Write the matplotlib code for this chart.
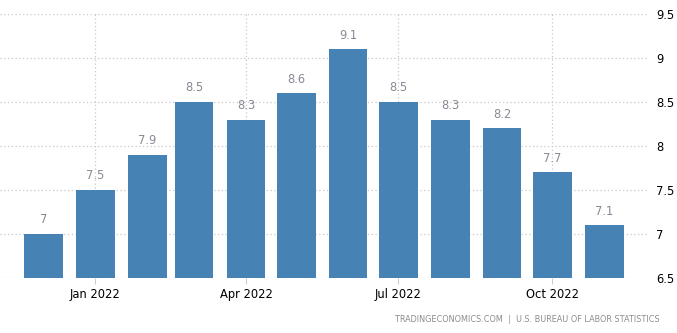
import datetime as dt
import matplotlib.pyplot as plt
import matplotlib.dates as mdates

# monthly values, Dec 2021 - Nov 2022
months = ["2021-12", "2022-01", "2022-02", "2022-03", "2022-04", "2022-05",
          "2022-06", "2022-07", "2022-08", "2022-09", "2022-10", "2022-11"]
values = [7.0, 7.5, 7.9, 8.5, 8.3, 8.6, 9.1, 8.5, 8.3, 8.2, 7.7, 7.1]
yticks = [6.5, 7, 7.5, 8, 8.5, 9, 9.5]
ytick_labels = ["6.5", "7", "7.5", "8", "8.5", "9", "9.5"]

dates = [dt.datetime.strptime(m + "-01", "%Y-%m-%d") for m in months]

fig = plt.figure(figsize=(6.77, 3.33), dpi=100)
ax = fig.add_axes([0.0, 0.165, 0.957, 0.793])

ax.bar(dates, [v - 6.5 for v in values], bottom=6.5, width=23,
       color="#4682b4", zorder=3)

for d, v in zip(dates, values):
    ax.annotate(f"{v:g}", (mdates.date2num(d), v), xytext=(0, 5.5),
                textcoords="offset points", ha="center", va="bottom",
                fontsize=8.3, color="#8a8894")

ax.set_ylim(6.5, 9.5)
ax.set_xlim(dt.datetime(2021, 11, 5), dt.datetime(2022, 11, 27))

ax.yaxis.tick_right()
ax.set_yticks(yticks)
ax.set_yticklabels(ytick_labels)
ax.tick_params(axis="y", length=0, pad=6, labelsize=8.3, labelcolor="black")

xt = [dt.datetime(2022, 1, 1), dt.datetime(2022, 4, 1),
      dt.datetime(2022, 7, 1), dt.datetime(2022, 10, 1)]
ax.set_xticks(xt)
ax.set_xticklabels([d.strftime("%b %Y") for d in xt])
ax.tick_params(axis="x", length=4, color="#cccccc", pad=3, labelsize=8.3,
               labelcolor="black")

ax.grid(True, linestyle=(0, (1, 2)), color="#c8c8c8", linewidth=0.9, zorder=0)
for s in ax.spines.values():
    s.set_visible(False)

fig.text(0.975, 0.04, "TRADINGECONOMICS.COM  |  U.S. BUREAU OF LABOR STATISTICS",
         ha="right", va="center", fontsize=5.9, color="#8c8c8c")

fig.savefig("out.png", dpi=100)
